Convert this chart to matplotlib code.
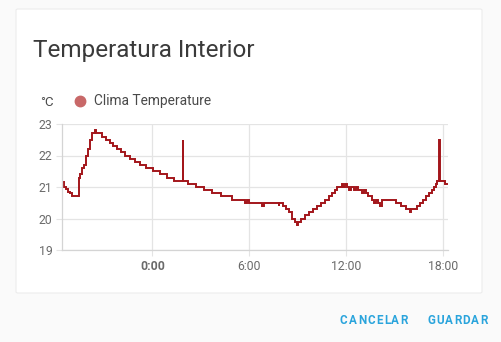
import matplotlib
matplotlib.use('Agg')
import numpy as np
from matplotlib import pyplot as plt
from matplotlib.patches import FancyBboxPatch

# hours relative to midnight, temperature in degC (step data)
hours = [-5.59, -5.46, -5.34, -5.22, -5.09, -4.97, -4.54, -4.48, -4.35, -4.23,
         -4.10, -3.98, -3.86, -3.73, -3.55, -3.49, -3.12, -2.87, -2.62, -2.44,
         -2.19, -1.94, -1.70, -1.39, -1.08, -0.77, -0.40, 0.03, 0.46, 0.90,
         1.33, 1.88, 1.91, 2.19, 2.69, 3.18, 3.67, 4.23, 4.91, 5.71,
         5.83, 5.96, 6.76, 6.82, 6.88, 6.94, 7.81, 7.87, 8.06, 8.30,
         8.49, 8.67, 8.86, 8.98, 9.04, 9.23, 9.48, 9.72, 9.97, 10.22,
         10.46, 10.71, 10.96, 11.14, 11.33, 11.45, 11.76, 11.82, 11.94, 12.07,
         12.19, 12.31, 12.50, 12.62, 12.75, 13.00, 13.12, 13.24, 13.36, 13.61,
         13.74, 13.86, 13.98, 14.10, 14.23, 15.09, 15.40, 15.71, 15.96, 16.02,
         16.39, 16.57, 16.76, 16.94, 17.13, 17.31, 17.44, 17.56, 17.62, 17.75,
         17.78, 18.12, 18.24]
temps = [21.15, 21.0, 20.95, 20.85, 20.8, 20.7, 21.3, 21.4, 21.6, 21.7,
         22.0, 22.2, 22.5, 22.7, 22.8, 22.7, 22.6, 22.5, 22.4, 22.3,
         22.2, 22.1, 22.0, 21.9, 21.8, 21.7, 21.6, 21.5, 21.4, 21.3,
         21.2, 22.5, 21.2, 21.1, 21.0, 20.9, 20.8, 20.7, 20.6, 20.5,
         20.6, 20.5, 20.4, 20.5, 20.4, 20.5, 20.4, 20.5, 20.4, 20.3,
         20.2, 20.0, 19.9, 19.8, 19.9, 20.0, 20.1, 20.2, 20.3, 20.4,
         20.5, 20.6, 20.7, 20.8, 20.9, 21.0, 21.1, 21.0, 21.1, 21.0,
         20.9, 21.0, 20.9, 21.0, 20.9, 20.8, 20.9, 20.8, 20.7, 20.6,
         20.5, 20.6, 20.5, 20.4, 20.6, 20.5, 20.4, 20.3, 20.2, 20.3,
         20.4, 20.5, 20.6, 20.7, 20.8, 20.9, 21.0, 21.1, 21.2, 22.5,
         21.2, 21.1, 21.1]

y_ticks = [19, 20, 21, 22, 23]
x_ticks = [0, 6, 12, 18]
x_labels = ['0:00', '6:00', '12:00', '18:00']

plt.rcParams['font.family'] = ['Roboto', 'DejaVu Sans']

fig = plt.figure(figsize=(5.01, 3.42), dpi=100)
fig.patch.set_facecolor('#fafafa')

# card
card = FancyBboxPatch((16 / 501, 1 - 293 / 342), 466 / 501, 284 / 342,
                      boxstyle='round,pad=0,rounding_size=0.004',
                      transform=fig.transFigure, facecolor='white',
                      edgecolor='#ececec', lw=0.8, zorder=-5)
fig.patches.append(card)

fig.text(33 / 501, 1 - 57 / 342, 'Temperatura Interior', fontsize=17.5,
         color='#3a3a3a', va='baseline', ha='left')

ax = fig.add_axes([62 / 501, 1 - 250 / 342, 386 / 501, 126 / 342], zorder=2)
ax.set_facecolor('none')
ax.plot(hours, temps, drawstyle='steps-post', color='#a3161b', lw=1.4,
        solid_joinstyle='miter')
ax.set_xlim(-5.59, 18.3)
ax.set_ylim(19, 23)
ax.set_yticks(y_ticks)
ax.set_xticks(x_ticks)
ax.set_xticklabels(x_labels)
ax.grid(True, color='#e4e4e4', lw=0.9)
ax.set_axisbelow(True)
for s in ('top', 'right'):
    ax.spines[s].set_visible(False)
for s in ('left', 'bottom'):
    ax.spines[s].set_color('#d4d4d4')
    ax.spines[s].set_linewidth(0.9)
ax.tick_params(length=4, color='#e4e4e4', labelsize=8.8, labelcolor='#6a6a6a',
               pad=3)
ax.get_xticklabels()[0].set_fontweight('bold')

fig.text(40 / 501, 1 - 103 / 342, '°C', fontsize=9.5, color='#4a4a4a',
         va='center', ha='left')
ax.plot([0.047], [1.18], 'o', transform=ax.transAxes, ms=7.5,
        color='#c86868', clip_on=False)
fig.text(94 / 501, 1 - 101 / 342, 'Clima Temperature', fontsize=9.9,
         color='#4a4a4a', va='center', ha='left')


def spaced(x0, y0, word, gap):
    # button text with letter spacing, one glyph at a time
    r = fig.canvas.get_renderer()
    x = x0
    for ch in word:
        t = fig.text(x / 501, 1 - y0 / 342, ch, fontsize=8.4,
                     fontweight='bold', color='#2aa4dc', va='center',
                     ha='left')
        x += t.get_window_extent(r).width + gap


spaced(340, 320, 'CANCELAR', 1.2)
spaced(427, 320, 'GUARDAR', 1.2)

fig.savefig('out.png', dpi=100, facecolor=fig.get_facecolor())
